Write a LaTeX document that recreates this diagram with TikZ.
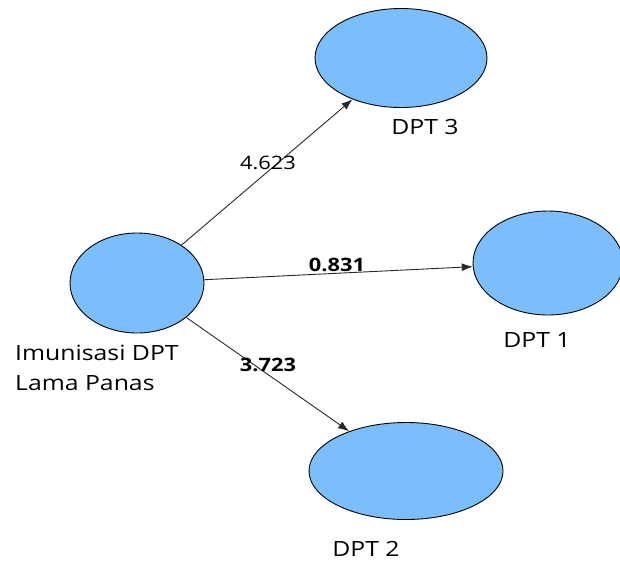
\documentclass[tikz,border=0pt]{standalone}
\usepackage{fontspec}
\setmainfont{Open Sans}[FakeStretch=1.18]
\usetikzlibrary{shapes.geometric,arrows.meta}
\definecolor{lvfill}{RGB}{122,191,251}
\definecolor{lvline}{RGB}{40,40,40}
\begin{document}
\begin{tikzpicture}[x=1pt,y=-1pt,
  lv/.style={ellipse,draw=black,line width=0.9pt,fill=lvfill,inner sep=0pt},
  lvlabel/.style={font=\fontsize{21}{30}\selectfont,text=black,inner sep=0pt},
  path/.style={draw=lvline,line width=0.9pt,-{Latex[length=11pt,width=8pt]}},
  coef/.style={font=\fontsize{18.5}{20}\selectfont,inner sep=0pt,text=black},
  coefb/.style={coef,font=\fontsize{18.5}{20}\selectfont\bfseries}]
\useasboundingbox (0,0) rectangle (620,563);
\node[lv,minimum width=134pt,minimum height=100pt] (src) at (137,283) {};
\node[lv,minimum width=172pt,minimum height=99pt] (d3) at (401,58) {};
\node[lv,minimum width=150pt,minimum height=104pt] (d1) at (548,263) {};
\node[lv,minimum width=194pt,minimum height=97pt] (d2) at (406,471) {};
\node[lvlabel,align=left,anchor=north west,font=\fontsize{21}{30}\selectfont] (srclab) at (15,345) {Imunisasi DPT\\Lama Panas};
\node[lvlabel] (d3lab) at (425,127) {DPT 3};
\node[lvlabel] (d1lab) at (537,340) {DPT 1};
\node[lvlabel] (d2lab) at (366,549) {DPT 2};
\draw[path] (src) -- (d3);
\draw[path] (src) -- (d1);
\draw[path] (src) -- (d2);
\node[coef] (c3) at (268,163) {4.623};
\node[coefb] (c1) at (337,265) {0.831};
\node[coefb] (c2) at (268,365) {3.723};
\end{tikzpicture}
\end{document}
